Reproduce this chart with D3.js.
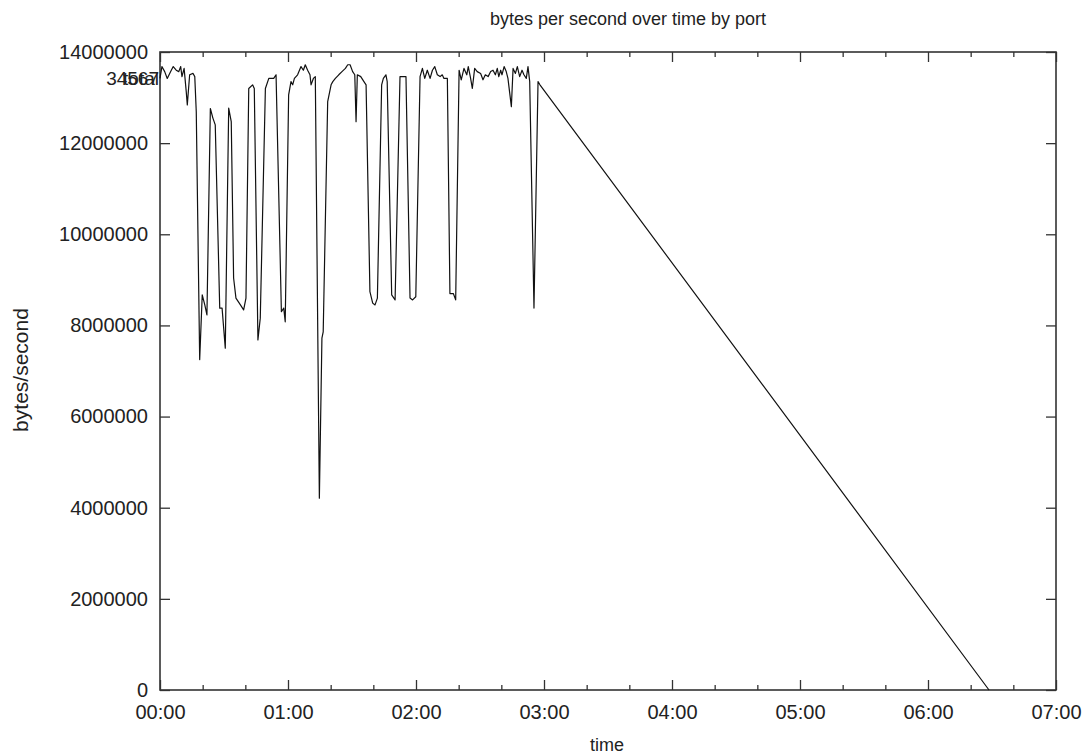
<!DOCTYPE html>
<html>
<head>
<meta charset="utf-8">
<script src="https://cdn.jsdelivr.net/npm/d3@7"></script>
<style>
  html, body { margin: 0; padding: 0; background: #fff; }
  svg { display: block; }
  text { font-family: "Liberation Sans", Arial, Helvetica, sans-serif; fill: #222; }
</style>
</head>
<body>
<svg id="chart" width="1090" height="755"></svg>
<script>
// ---- data (minutes since 00:00, bytes/second in millions) ----
const minutes = [0,0.9,2.2,3.4,5.0,6.2,7.6,8.8,9.7,10.3,11.3,12.3,12.8,13.9,15.5,16.3,17.0,18.6,19.8,21.0,22.0,23.6,24.8,25.9,28.0,
  29.1,30.6,32.2,33.4,34.5,35.6,37.7,39.2,40.3,41.6,43.4,44.2,45.9,47.0,49.4,51.0,53.3,54.4,56.9,58.0,58.7,
  60.3,61.4,62.2,63.0,64.5,66.1,67.2,68.1,69.2,70.3,70.8,71.9,72.8,74.7,75.9,76.5,78.6,80.2,81.0,82.2,83.8,85.3,86.9,88.0,
  89.1,90.3,91.3,91.9,92.5,94.1,95.6,96.6,98.4,99.7,100.8,101.9,103.9,104.7,105.9,106.5,108.6,110.2,112.5,115.3,117.2,118.4,
  119.9,121.9,123.0,124.1,125.3,126.6,127.7,128.8,130.0,131.3,132.3,133.1,134.7,135.9,137.5,138.6,140.2,141.2,142.5,143.8,144.5,145.6,146.4,147.5,148.7,
  150.3,151.4,152.5,153.8,155.0,156.1,157.2,158.1,158.8,159.7,160.3,161.3,162.3,163.1,164.7,165.5,166.6,167.5,168.6,169.7,170.6,171.7,172.5,173.3,175.3,177.2,178.1,
  388.6];
const bytesPerSecM = [13.42,13.68,13.57,13.42,13.57,13.68,13.60,13.57,13.68,13.46,13.64,13.13,12.84,13.50,13.53,13.46,12.69,7.25,8.67,8.45,8.23,12.76,12.55,12.40,8.38,
  8.38,7.50,12.77,12.47,9.04,8.60,8.45,8.34,8.60,13.20,13.28,13.20,7.68,8.16,13.20,13.42,13.42,13.50,8.30,8.38,8.08,
  13.06,13.35,13.28,13.42,13.50,13.68,13.60,13.72,13.60,13.50,13.28,13.42,13.46,4.21,7.72,7.86,12.91,13.28,13.35,13.42,13.50,13.57,13.64,13.72,
  13.72,13.57,13.50,12.47,13.50,13.46,13.35,13.28,8.74,8.49,8.45,8.60,13.28,13.42,13.50,13.35,8.67,8.56,13.46,13.46,8.60,8.56,
  8.63,13.46,13.64,13.42,13.60,13.42,13.60,13.68,13.50,13.46,13.50,13.42,13.42,8.70,8.70,8.56,13.60,13.39,13.64,13.50,13.68,13.42,13.20,13.64,13.57,
  13.53,13.39,13.50,13.46,13.57,13.60,13.50,13.64,13.46,13.60,13.50,13.68,13.57,13.42,12.80,13.64,13.53,13.68,13.46,13.60,13.50,13.42,13.68,13.35,8.38,13.35,13.28,
  0];
const seriesLabels = ["34567", "total"];
const xTickMinutes = [0, 60, 120, 180, 240, 300, 360, 420];
const xTickLabels = ["00:00", "01:00", "02:00", "03:00", "04:00", "05:00", "06:00", "07:00"];
const xMinorMinutes = [20, 40, 80, 100, 140, 160, 200, 220, 260, 280, 320, 340, 380, 400];
const yTickValuesM = [0, 2, 4, 6, 8, 10, 12, 14];
const yTickLabels = ["0", "2000000", "4000000", "6000000", "8000000", "10000000", "12000000", "14000000"];
const titleText = "bytes per second over time by port";
const xTitle = "time";
const yTitle = "bytes/second";

// ---- layout ----
const svg = d3.select("#chart");
const plotL = 160, plotR = 1056, plotT = 52, plotB = 690;

const x = d3.scaleLinear().domain([0, 420]).range([plotL, plotR]);
const y = d3.scaleLinear().domain([0, 14]).range([plotB, plotT]);

const axisColor = "#333";

function styleAxis(g) {
  g.select(".domain").remove();
  g.selectAll(".tick line").attr("stroke", axisColor).attr("stroke-width", 1.3);
  g.selectAll(".tick text").style("font-size", "20px").attr("fill", "#222");
}

// left axis with labels (ticks inward)
svg.append("g").attr("transform", `translate(${plotL},0)`)
  .call(d3.axisLeft(y).tickValues(yTickValuesM).tickSizeInner(-10).tickSizeOuter(0).tickPadding(12)
    .tickFormat((d, i) => yTickLabels[i]))
  .call(styleAxis);
// right mirror
svg.append("g").attr("transform", `translate(${plotR},0)`)
  .call(d3.axisRight(y).tickValues(yTickValuesM).tickSizeInner(-10).tickSizeOuter(0).tickFormat(""))
  .call(styleAxis);
// bottom axis with labels
svg.append("g").attr("transform", `translate(0,${plotB})`)
  .call(d3.axisBottom(x).tickValues(xTickMinutes).tickSizeInner(-10).tickSizeOuter(0).tickPadding(15)
    .tickFormat((d, i) => xTickLabels[i]))
  .call(styleAxis);
svg.append("g").attr("transform", `translate(0,${plotB})`)
  .call(d3.axisBottom(x).tickValues(xMinorMinutes).tickSizeInner(-5).tickSizeOuter(0).tickFormat(""))
  .call(styleAxis);
// top mirror
svg.append("g").attr("transform", `translate(0,${plotT})`)
  .call(d3.axisTop(x).tickValues(xTickMinutes).tickSizeInner(-10).tickSizeOuter(0).tickFormat(""))
  .call(styleAxis);
svg.append("g").attr("transform", `translate(0,${plotT})`)
  .call(d3.axisTop(x).tickValues(xMinorMinutes).tickSizeInner(-5).tickSizeOuter(0).tickFormat(""))
  .call(styleAxis);

// frame
svg.append("rect").attr("x", plotL).attr("y", plotT).attr("width", plotR - plotL).attr("height", plotB - plotT)
  .attr("fill", "none").attr("stroke", axisColor).attr("stroke-width", 1.6);

// line
const pts = minutes.map((m, i) => [m, bytesPerSecM[i]]);
const line = d3.line().x(d => x(d[0])).y(d => y(d[1]));
svg.append("path").datum(pts).attr("d", line)
  .attr("fill", "none").attr("stroke", "#111").attr("stroke-width", 1.2).attr("stroke-linejoin", "round");

// series labels (overlapping, at first data point, as in the reference)
seriesLabels.forEach(lbl => {
  svg.append("text").attr("x", plotL - 1).attr("y", y(bytesPerSecM[0]))
    .attr("text-anchor", "end").attr("dominant-baseline", "central")
    .style("font-size", "19px").text(lbl);
});

// titles
svg.append("text").attr("x", 628).attr("y", 25).attr("text-anchor", "middle")
  .style("font-size", "18px").text(titleText);
svg.append("text").attr("x", 607).attr("y", 751).attr("text-anchor", "middle")
  .style("font-size", "18px").text(xTitle);
svg.append("text").attr("transform", `translate(28,370) rotate(-90)`).attr("text-anchor", "middle")
  .style("font-size", "21px").text(yTitle);
</script>
</body>
</html>
